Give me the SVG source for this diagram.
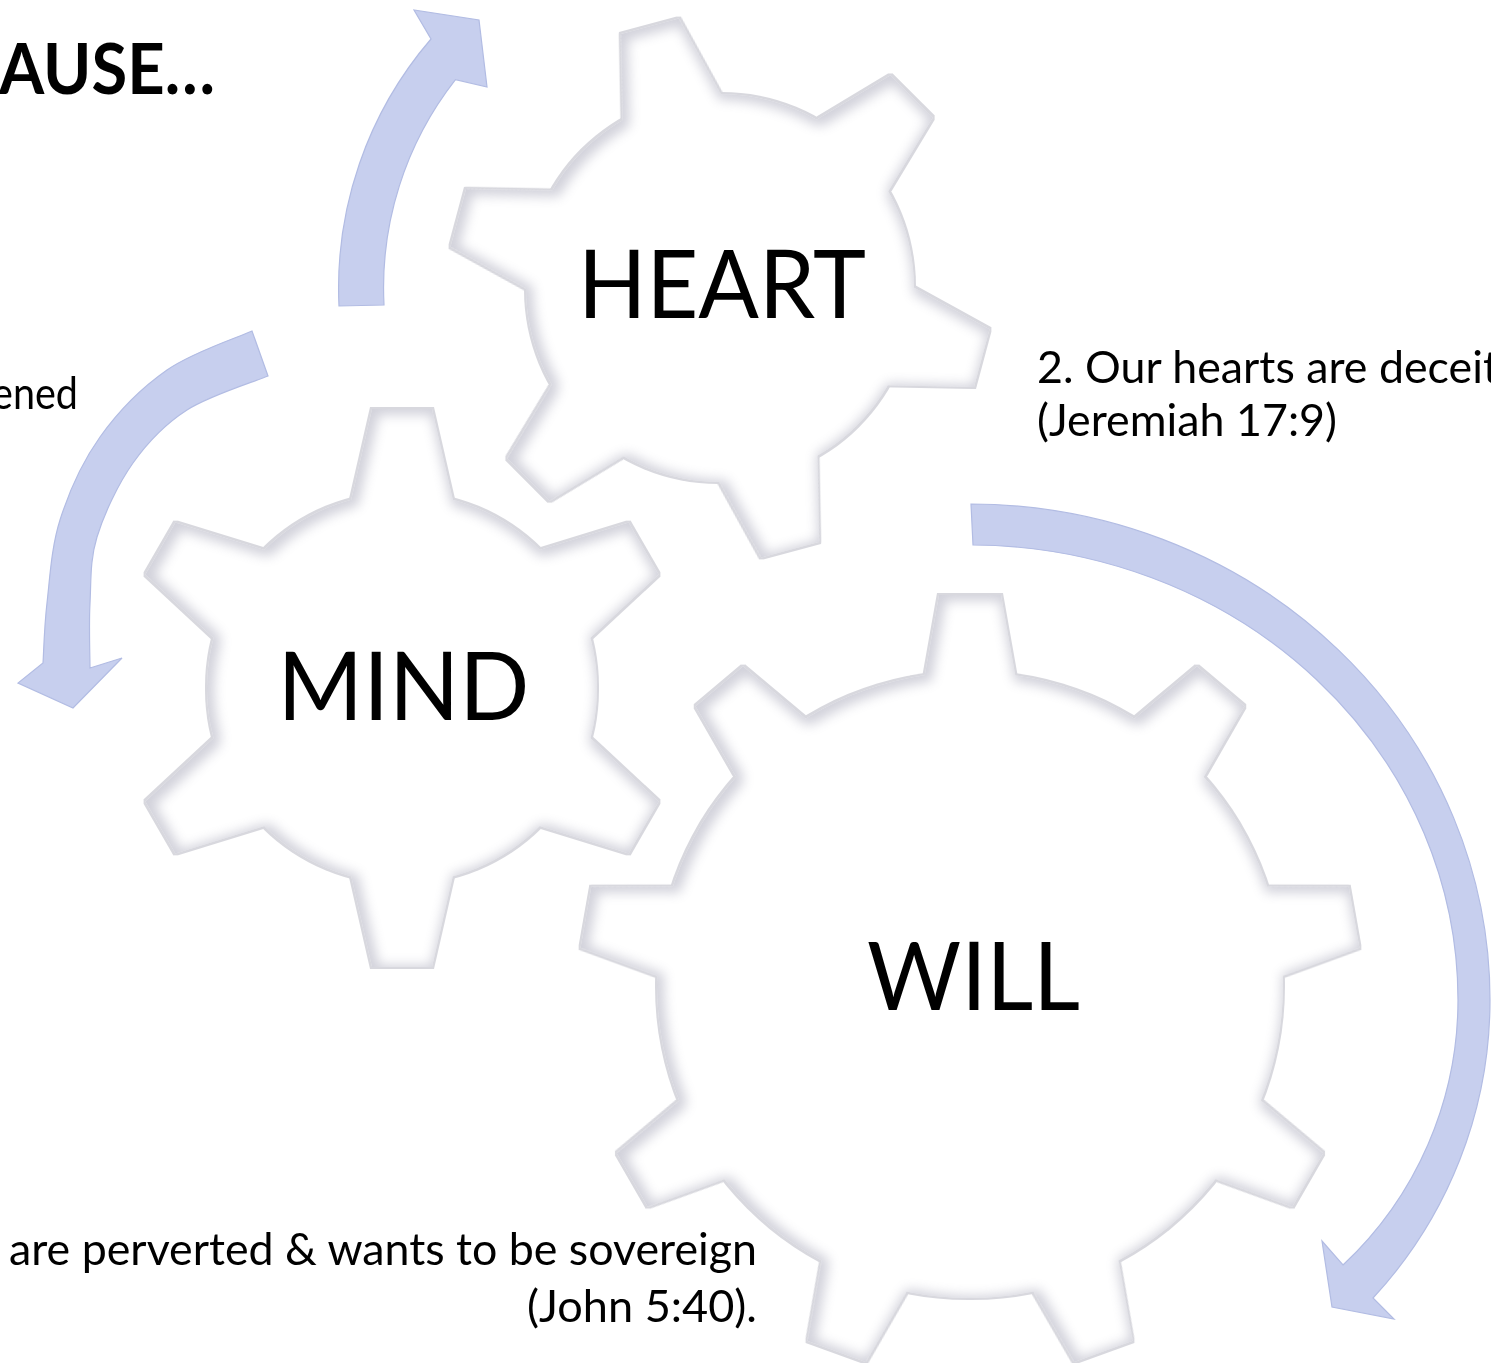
<svg xmlns="http://www.w3.org/2000/svg" xmlns:xlink="http://www.w3.org/1999/xlink" width="1491" height="1363" viewBox="0 0 1491 1363">
<defs>
<style>
.gear { fill:#ffffff; }
.label { font-family: Lato, "Open Sans", "Liberation Sans", sans-serif; font-size:95px; fill:#000000; text-anchor:middle; }
.body { font-family: Lato, "Open Sans", "Liberation Sans", sans-serif; font-size:44px; fill:#000000; }
.title { font-family: Lato, "Open Sans", "Liberation Sans", sans-serif; font-weight:bold; font-size:70px; fill:#000000; }
.arrow { fill:#c7cfee; stroke:#b2bce3; stroke-width:1.2; stroke-linejoin:miter; }
</style>
<filter id="bevel" x="-10%" y="-10%" width="120%" height="120%" color-interpolation-filters="sRGB">
  <feMorphology in="SourceAlpha" operator="dilate" radius="2" result="dil"/>
  <feFlood flood-color="#d8d8de" result="olc"/>
  <feComposite in="olc" in2="dil" operator="in" result="outline"/>
  <feMorphology in="SourceAlpha" operator="erode" radius="4" result="ero"/>
  <feGaussianBlur in="ero" stdDeviation="6" result="blur"/>
  <feOffset in="blur" dx="3" dy="2" result="off"/>
  <feComposite in="SourceAlpha" in2="off" operator="out" result="rim"/>
  <feFlood flood-color="#c2c2cf" flood-opacity="0.75" result="rc"/>
  <feComposite in="rc" in2="rim" operator="in" result="shade"/>
  <feMerge>
    <feMergeNode in="outline"/>
    <feMergeNode in="SourceGraphic"/>
    <feMergeNode in="shade"/>
  </feMerge>
</filter>
<polygon id="toothH" points="182,-52 271,-30 271,30 182,52"/>
<polygon id="toothM" points="183,-52 279,-30 279,30 183,52"/>
<polygon id="toothW" points="300,-47 390,-31 390,31 300,47"/>
</defs>
<rect width="1491" height="1363" fill="#ffffff"/>

<g id="connectors">
  <path id="arrow-heart" class="arrow" d="M 339 306 A 382 382 0 0 1 431 39 L 414 10 L 479 20 L 487 87 L 455.5 79.6 A 337 337 0 0 0 384 305 Z"/>
  <path id="arrow-mind" class="arrow" d="M 252 331 C 237.8 337.5 192.3 352.3 167 370 C 141.7 387.7 117.8 412 100 437 C 82.2 462 68.8 492.3 60 520 C 51.2 547.7 49.8 579.2 47 603 C 44.2 626.8 43.7 653 43 663 L 18 683 L 73 708 L 122 658 L 90 668 C 90 657.2 88.8 624.8 90 603 C 91.2 581.2 89.8 560.3 97 537 C 104.2 513.7 118 484.2 133 463 C 148 441.8 164.5 424.5 187 410 C 209.5 395.5 254.5 381.7 268 376 Z"/>
  <path id="arrow-will" class="arrow" d="M 971 504 A 520 496 0 0 1 1490 1000 A 438 438 0 0 1 1373 1298 L 1394 1319 L 1332 1307 L 1322 1241 L 1343 1265 A 363 363 0 0 0 1458 1000 A 488 455 0 0 0 973 545 Z"/>
</g>

<g id="heart" transform="translate(720,288)">
  <g class="gear" filter="url(#bevel)">
    <circle r="194"/>
    <use xlink:href="#toothH" transform="rotate(-105)"/>
    <use xlink:href="#toothH" transform="rotate(-45)"/>
    <use xlink:href="#toothH" transform="rotate(15)"/>
    <use xlink:href="#toothH" transform="rotate(75)"/>
    <use xlink:href="#toothH" transform="rotate(135)"/>
    <use xlink:href="#toothH" transform="rotate(195)"/>
  </g>
  <text class="label" x="2" y="30" textLength="288" lengthAdjust="spacingAndGlyphs">HEART</text>
</g>

<g id="mind" transform="translate(402,688)">
  <g class="gear" filter="url(#bevel)">
    <circle r="195"/>
    <use xlink:href="#toothM" transform="rotate(-90)"/>
    <use xlink:href="#toothM" transform="rotate(-30)"/>
    <use xlink:href="#toothM" transform="rotate(30)"/>
    <use xlink:href="#toothM" transform="rotate(90)"/>
    <use xlink:href="#toothM" transform="rotate(150)"/>
    <use xlink:href="#toothM" transform="rotate(210)"/>
  </g>
  <text class="label" x="1.5" y="32" textLength="252" lengthAdjust="spacingAndGlyphs">MIND</text>
</g>

<g id="will" transform="translate(970,985)">
  <g class="gear" filter="url(#bevel)">
    <circle r="313"/>
    <use xlink:href="#toothW" transform="rotate(-90)"/>
    <use xlink:href="#toothW" transform="rotate(-50)"/>
    <use xlink:href="#toothW" transform="rotate(-10)"/>
    <use xlink:href="#toothW" transform="rotate(30)"/>
    <use xlink:href="#toothW" transform="rotate(70)"/>
    <use xlink:href="#toothW" transform="rotate(110)"/>
    <use xlink:href="#toothW" transform="rotate(150)"/>
    <use xlink:href="#toothW" transform="rotate(190)"/>
    <use xlink:href="#toothW" transform="rotate(230)"/>
  </g>
  <text class="label" x="3.5" y="25" textLength="213" lengthAdjust="spacingAndGlyphs">WILL</text>
</g>

<g id="texts">
  <text class="title" x="-1" y="94" textLength="216" lengthAdjust="spacingAndGlyphs">AUSE…</text>
  <text class="body" x="78" y="409" text-anchor="end" textLength="86" lengthAdjust="spacingAndGlyphs">ened</text>
  <text class="body" x="1037" y="383" textLength="462" lengthAdjust="spacingAndGlyphs">2. Our hearts are deceit</text>
  <text class="body" x="1037" y="436" textLength="300" lengthAdjust="spacingAndGlyphs">(Jeremiah 17:9)</text>
  <text class="body" x="757" y="1265" text-anchor="end" textLength="748" lengthAdjust="spacingAndGlyphs">are perverted &amp; wants to be sovereign</text>
  <text class="body" x="757" y="1322" text-anchor="end" textLength="230" lengthAdjust="spacingAndGlyphs">(John 5:40).</text>
</g>
</svg>
